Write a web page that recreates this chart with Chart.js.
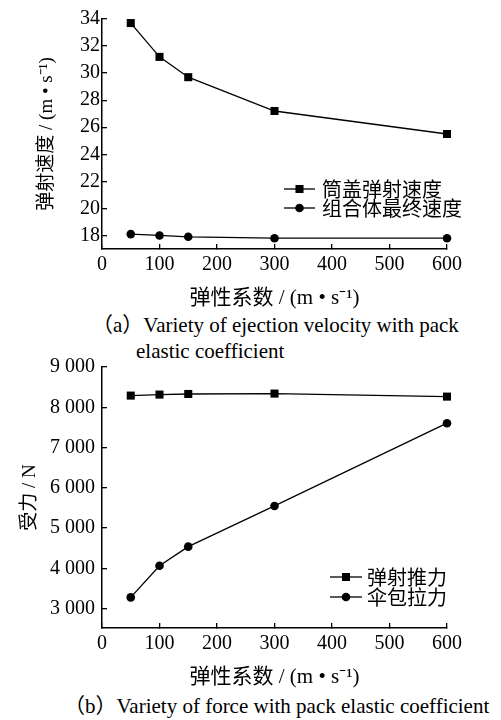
<!DOCTYPE html>
<html>
<head>
<meta charset="utf-8">
<script src="https://cdn.jsdelivr.net/npm/chart.js@4"></script>
<style>
  html, body { margin: 0; padding: 0; background: #fff; }
  body { width: 501px; height: 720px; position: relative; overflow: hidden;
         font-family: 'Liberation Serif', 'Noto Sans CJK SC', serif; color: #000; }
  canvas { position: absolute; left: 0; }
  .cap { position: absolute; font-size: 21px; line-height: 1; white-space: nowrap; }
</style>
</head>
<body>
<canvas id="velChart" width="501" height="312" style="top:0"></canvas>
<div class="cap" style="left:92px;top:315px">（a）Variety of ejection velocity with pack</div>
<div class="cap" style="left:136px;top:341px">elastic coefficient</div>
<canvas id="forceChart" width="501" height="350" style="top:340px"></canvas>
<div class="cap" style="left:64px;top:696px">（b）Variety of force with pack elastic coefficient</div>

<script>
// Pack elastic coefficient (x values shared by both panels)
const stiffness = [50, 100, 150, 300, 600];

// Panel (a): velocities, m/s
const lidVelocity = [33.7, 31.2, 29.7, 27.2, 25.5];
const comboVelocity = [18.1, 18.0, 17.9, 17.8, 17.8];

// Panel (b): forces, N
const ejectForce = [8290, 8315, 8330, 8340, 8265];
const packTension = [3280, 4065, 4540, 5550, 7605];

// Tick values
const xTicks = [0, 100, 200, 300, 400, 500, 600];
const velTicks = [18, 20, 22, 24, 26, 28, 30, 32, 34];
const forceTicks = [3000, 4000, 5000, 6000, 7000, 8000, 9000];

const SERIF = "'Liberation Serif', 'Noto Sans CJK SC', serif";
const CJK = "'Noto Sans CJK SC', 'Liberation Serif', sans-serif";

// Legend drawn as "line + marker + label" rows at a fixed spot inside the plot
const lineLegend = {
  id: 'lineLegend',
  afterDatasetsDraw(chart, args, opts) {
    const ctx = chart.ctx;
    ctx.save();
    chart.data.datasets.forEach((ds, i) => {
      const y = opts.y0 + i * opts.gap;
      ctx.strokeStyle = ds.borderColor;
      ctx.lineWidth = ds.borderWidth;
      ctx.beginPath();
      ctx.moveTo(opts.x0, y);
      ctx.lineTo(opts.x0 + opts.len, y);
      ctx.stroke();
      ctx.fillStyle = ds.pointBackgroundColor;
      Chart.helpers.drawPoint(ctx, { pointStyle: ds.pointStyle, radius: ds.pointRadius, borderWidth: 0, rotation: 0 },
        opts.x0 + opts.len / 2, y);
      ctx.fillStyle = '#000';
      ctx.font = '20px ' + CJK;
      ctx.textAlign = 'left';
      ctx.textBaseline = 'middle';
      ctx.fillText(ds.label, opts.textX, y);
    });
    ctx.restore();
  }
};

function series(label, ys, style, radius) {
  return {
    label,
    data: stiffness.map((x, i) => ({ x, y: ys[i] })),
    borderColor: '#000',
    backgroundColor: '#000',
    pointBackgroundColor: '#000',
    pointBorderWidth: 0,
    borderWidth: 1.3,
    pointStyle: style,
    pointRadius: radius,
    tension: 0,
    clip: false
  };
}

function xScale(height, titlePad) {
  return {
    type: 'linear', min: 0, max: 600,
    afterBuildTicks: s => { s.ticks = xTicks.map(v => ({ value: v })); },
    afterFit: s => { s.height = height; },
    border: { color: '#000', width: 1.5 },
    grid: { drawOnChartArea: false, color: '#000', lineWidth: 1.3, tickLength: -5 },
    ticks: { color: '#000', font: { family: SERIF, size: 20 }, padding: 9, maxRotation: 0, autoSkip: false },
    title: { display: true, text: '弹性系数 / (m • s⁻¹)', color: '#000',
             font: { family: SERIF, size: 21 }, padding: { top: 0, bottom: titlePad } }
  };
}

function yScale(min, max, ticks, fmt, labelPad, title, titlePad) {
  return {
    type: 'linear', min, max,
    afterBuildTicks: s => { s.ticks = ticks.map(v => ({ value: v })); },
    afterFit: s => { s.width = 102; },
    border: { color: '#000', width: 1.5 },
    grid: { drawOnChartArea: false, color: '#000', lineWidth: 1.3, tickLength: -5 },
    ticks: { color: '#000', font: { family: SERIF, size: 20 }, padding: labelPad, callback: fmt },
    title: { display: true, text: title, color: '#000',
             font: { family: SERIF, size: 19 }, padding: { top: titlePad, bottom: 0 } }
  };
}

const thousands = v => String(v).replace(/\B(?=(\d{3})+$)/g, ' ');

new Chart(document.getElementById('velChart'), {
  type: 'line',
  data: { datasets: [
    series('筒盖弹射速度', lidVelocity, 'rect', 5.7),
    series('组合体最终速度', comboVelocity, 'circle', 4.3)
  ] },
  options: {
    responsive: false, animation: false,
    layout: { padding: { top: 14, right: 54, left: 0, bottom: 0 } },
    plugins: {
      legend: { display: false }, tooltip: { enabled: false },
      lineLegend: { x0: 284, len: 31, textX: 322, y0: 189, gap: 19 }
    },
    scales: {
      x: xScale(63, 1),
      y: yScale(17, 34, velTicks, v => String(v), 7, '弹射速度 / (m • s⁻¹)', 35.5)
    }
  },
  plugins: [lineLegend]
});

new Chart(document.getElementById('forceChart'), {
  type: 'line',
  data: { datasets: [
    series('弹射推力', ejectForce, 'rect', 5.7),
    series('伞包拉力', packTension, 'circle', 4.3)
  ] },
  options: {
    responsive: false, animation: false,
    layout: { padding: { top: 27, right: 54, left: 0, bottom: 0 } },
    plugins: {
      legend: { display: false }, tooltip: { enabled: false },
      lineLegend: { x0: 330, len: 32, textX: 367, y0: 237, gap: 20 }
    },
    scales: {
      x: xScale(62, 0),
      y: yScale(2520, 9000, forceTicks, thousands, 12, '受力 / N', 18.5)
    }
  },
  plugins: [lineLegend]
});
</script>
</body>
</html>
